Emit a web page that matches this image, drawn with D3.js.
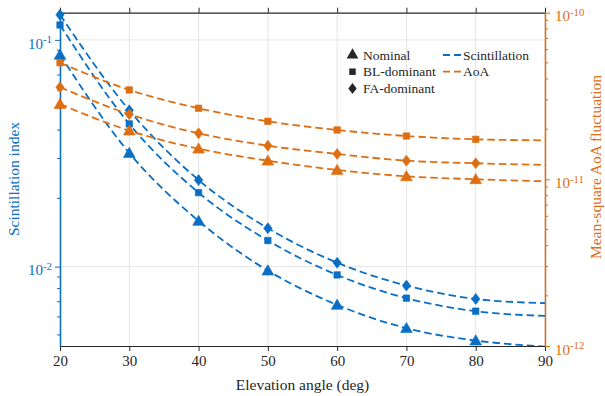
<!DOCTYPE html>
<html><head><meta charset="utf-8">
<script src="https://cdn.jsdelivr.net/npm/d3@7"></script>
<style>body{margin:0;background:#fff}svg{display:block}text{font-family:"Liberation Serif","Times New Roman",serif}</style>
</head><body><svg id="c" width="605" height="396"></svg>
<script>
const elev = [20, 30, 40, 50, 60, 70, 80, 90];
const markerElev = [20, 30, 40, 50, 60, 70, 80];
const scintNominal = [0.0859, 0.0317, 0.0159, 0.0096, 0.00678, 0.00535, 0.00472, 0.00444];
const scintBL = [0.1164, 0.0426, 0.0212, 0.01303, 0.00919, 0.00726, 0.00636, 0.00606];
const scintFA = [0.129, 0.0489, 0.0241, 0.01477, 0.01041, 0.00825, 0.0072, 0.0069];
const aoaNominal = [2.83e-11, 1.96e-11, 1.527e-11, 1.294e-11, 1.138e-11, 1.043e-11, 1.001e-11, 9.73e-12];
const aoaBL = [5.01e-11, 3.44e-11, 2.67e-11, 2.23e-11, 1.978e-11, 1.82e-11, 1.739e-11, 1.715e-11];
const aoaFA = [3.57e-11, 2.457e-11, 1.889e-11, 1.592e-11, 1.42e-11, 1.294e-11, 1.249e-11, 1.22e-11];
const xTicks = [20, 30, 40, 50, 60, 70, 80, 90];
const leftMajor = [0.01, 0.1];
const rightMajor = [1e-12, 1e-11, 1e-10];
const legendMarkers = ["Nominal", "BL-dominant", "FA-dominant"];
const legendLines = ["Scintillation", "AoA"];

const BLUE = "#0A6FC4", ORANGE = "#DE6E12", DARK = "#262626", GRID = "#e5e5e5";
const svg = d3.select("#c");
const L = 60, R = 545, T = 12.7, B = 346;
const x = d3.scaleLinear().domain([20, 90]).range([L, R]);
const yL = d3.scaleLog().domain([0.004466, 0.1318]).range([B, T]);
const yR = d3.scaleLog().domain([1e-12, 1e-10]).range([B, T]);

// grid
const g = svg.append("g");
g.selectAll(".gx").data(xTicks).join("line").attr("x1", d => x(d)).attr("x2", d => x(d))
  .attr("y1", T).attr("y2", B).attr("stroke", GRID).attr("stroke-width", 1);
g.selectAll(".gy").data(leftMajor).join("line").attr("y1", d => yL(d)).attr("y2", d => yL(d))
  .attr("x1", L).attr("x2", R).attr("stroke", GRID).attr("stroke-width", 1);

// axes
function minorTicks(scale) {
  const [a, b] = scale.domain(); const out = [];
  for (let e = Math.floor(Math.log10(a)); e <= Math.ceil(Math.log10(b)); e++)
    for (let m = 2; m <= 9; m++) { const v = m * Math.pow(10, e); if (v >= a && v <= b) out.push(v); }
  return out;
}
const bottomAx = svg.append("g").attr("transform", `translate(0,${B})`)
  .call(d3.axisBottom(x).tickValues(xTicks).tickSize(5).tickSizeOuter(0).tickPadding(4));
bottomAx.select(".domain").attr("stroke", DARK).attr("stroke-width", 1.2);
bottomAx.selectAll("line").attr("stroke", DARK);
bottomAx.selectAll("text").attr("fill", DARK).attr("font-size", 15).style("font-family", "Liberation Serif");
const topAx = svg.append("g").attr("transform", `translate(0,${T})`)
  .call(d3.axisTop(x).tickValues(xTicks).tickSize(5).tickSizeOuter(0).tickFormat(""));
topAx.select(".domain").attr("stroke", DARK).attr("stroke-width", 1.2);
topAx.selectAll("line").attr("stroke", DARK);

function supLabel(sel, exp) {
  sel.text(null);
  sel.append("tspan").text("10");
  sel.append("tspan").attr("dy", "-0.5em").attr("font-size", "0.72em").text(exp);
}
// left axis
const leftAx = svg.append("g").attr("transform", `translate(${L},0)`);
leftAx.call(d3.axisLeft(yL).tickValues(leftMajor).tickSize(5).tickSizeOuter(0).tickPadding(3));
leftAx.select(".domain").attr("stroke", BLUE).attr("stroke-width", 1.5);
leftAx.selectAll(".tick line").attr("stroke", BLUE);
leftAx.selectAll(".tick text").attr("fill", BLUE).attr("font-size", 15).attr("dy", "0.55em")
  .style("font-family", "Liberation Serif").each(function (d) { supLabel(d3.select(this), Math.round(Math.log10(d))); });
leftAx.selectAll(".mn").data(minorTicks(yL)).join("line").attr("x1", 0).attr("x2", -3)
  .attr("y1", d => yL(d)).attr("y2", d => yL(d)).attr("stroke", BLUE);
// right axis
const rightAx = svg.append("g").attr("transform", `translate(${R},0)`);
rightAx.call(d3.axisRight(yR).tickValues(rightMajor).tickSize(5).tickSizeOuter(0).tickPadding(5));
rightAx.select(".domain").attr("stroke", ORANGE).attr("stroke-width", 1.5);
rightAx.selectAll(".tick line").attr("stroke", ORANGE);
rightAx.selectAll(".tick text").attr("fill", ORANGE).attr("font-size", 15).attr("dy", "0.55em")
  .style("font-family", "Liberation Serif").each(function (d) { supLabel(d3.select(this), Math.round(Math.log10(d))); });
rightAx.selectAll(".mn").data(minorTicks(yR)).join("line").attr("x1", 0).attr("x2", 3)
  .attr("y1", d => yR(d)).attr("y2", d => yR(d)).attr("stroke", ORANGE);

// labels
svg.append("text").attr("x", (L + R) / 2).attr("y", 390).attr("text-anchor", "middle")
  .attr("font-size", 15.5).attr("fill", DARK).text("Elevation angle (deg)");
svg.append("text").attr("transform", "translate(18.5,179) rotate(-90)").attr("text-anchor", "middle")
  .attr("font-size", 15.5).attr("fill", BLUE).text("Scintillation index");
svg.append("text").attr("transform", "translate(601,167) rotate(-90)").attr("text-anchor", "middle")
  .attr("font-size", 15.5).attr("fill", ORANGE).text("Mean-square AoA fluctuation");

// series
const series = [
  { v: scintNominal, s: yL, c: BLUE, m: d3.symbolTriangle },
  { v: scintBL, s: yL, c: BLUE, m: d3.symbolSquare },
  { v: scintFA, s: yL, c: BLUE, m: "diamond" },
  { v: aoaNominal, s: yR, c: ORANGE, m: d3.symbolTriangle },
  { v: aoaBL, s: yR, c: ORANGE, m: d3.symbolSquare },
  { v: aoaFA, s: yR, c: ORANGE, m: "diamond" },
];
svg.append("clipPath").attr("id", "pc").append("rect")
  .attr("x", L).attr("y", T).attr("width", R - L).attr("height", B - T);
const plot = svg.append("g");
function markerPath(m) {
  if (m === "diamond") return "M0,-5.5L4.2,0L0,5.5L-4.2,0Z";
  if (m === d3.symbolTriangle) return d3.symbol().type(m).size(60)();
  return d3.symbol().type(m).size(42)();
}
series.forEach(sr => {
  const line = d3.line().x((d, i) => x(elev[i])).y(d => sr.s(d)).curve(d3.curveMonotoneX);
  plot.append("path").datum(sr.v).attr("d", line).attr("fill", "none").attr("stroke", sr.c)
    .attr("stroke-width", 1.8).attr("stroke-dasharray", "7.5,4").attr("clip-path", "url(#pc)");
  plot.selectAll(null).data(markerElev).join("path")
    .attr("transform", (d, i) => `translate(${x(d)},${sr.s(sr.v[i]) + (sr.m === d3.symbolTriangle ? 1 : 0)})`)
    .attr("d", markerPath(sr.m)).attr("fill", sr.c).attr("stroke", sr.c).attr("stroke-width", 0.6);
});

// legend
const lg = svg.append("g");
const mk = [d3.symbolTriangle, d3.symbolSquare, "diamond"];
legendMarkers.forEach((t, i) => {
  const yy = 55 + i * 16.7;
  lg.append("path").attr("transform", `translate(352.5,${yy})`).attr("d", markerPath(mk[i])).attr("fill", DARK);
  lg.append("text").attr("x", 363).attr("y", yy + 4.5).attr("font-size", 13.5).attr("fill", DARK).text(t);
});
legendLines.forEach((t, i) => {
  const yy = 55 + i * 16.7;
  lg.append("line").attr("x1", 443).attr("x2", 462).attr("y1", yy).attr("y2", yy)
    .attr("stroke", i ? ORANGE : BLUE).attr("stroke-width", 1.8).attr("stroke-dasharray", "7,4");
  lg.append("text").attr("x", 463).attr("y", yy + 4.5).attr("font-size", 13.5).attr("fill", DARK).text(t);
});
</script></body></html>
